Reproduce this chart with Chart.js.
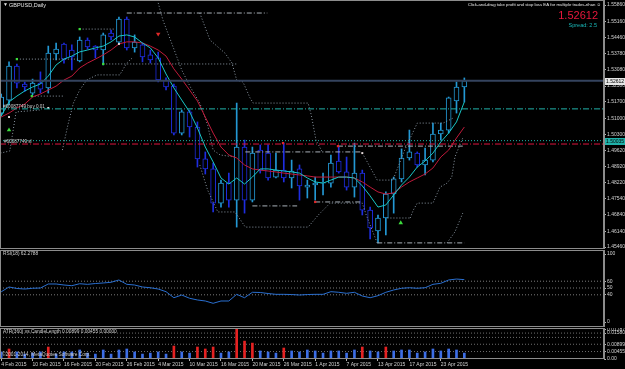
<!DOCTYPE html>
<html>
<head>
<meta charset="utf-8">
<script src="https://cdn.jsdelivr.net/npm/chart.js@4.4.0/dist/chart.umd.min.js"></script>
<style>
  html, body { margin: 0; padding: 0; background: #000; }
  #wrap { position: relative; width: 625px; height: 369px; background: #000; overflow: hidden; }
  canvas { position: absolute; left: 0; }
</style>
</head>
<body>
<div id="wrap">
  <canvas id="priceChart" width="625" height="249" style="top:0"></canvas>
  <canvas id="rsiChart" width="625" height="77" style="top:250px"></canvas>
  <canvas id="atrChart" width="625" height="41" style="top:328px"></canvas>
</div>
<script>
// ---- data (4 Feb - 28 Apr 2015) ----
const opens = [1.5122,1.5178,1.5324,1.5247,1.5208,1.5251,1.5230,1.5376,1.5419,1.5393,
  1.5346,1.5436,1.5410,1.5393,1.5466,1.5427,1.5526,1.5402,1.5415,1.5372,
  1.5359,1.5264,1.5238,1.5036,1.5127,1.5062,1.4925,1.4882,1.4735,1.4821,
  1.4748,1.4976,1.4748,1.4963,1.4950,1.4847,1.4877,1.4843,1.4882,1.4804,
  1.4813,1.4821,1.4821,1.4916,1.4869,1.4804,1.4864,1.4705,1.4615,1.4671,
  1.4774,1.4839,1.4929,1.4950,1.4899,1.4920,1.5032,1.5049,1.5174,1.5234];
const highs = [1.5204,1.5342,1.5333,1.5256,1.5268,1.5299,1.5410,1.5423,1.5423,1.5415,
  1.5449,1.5445,1.5412,1.5466,1.5479,1.5535,1.5535,1.5458,1.5423,1.5393,
  1.5384,1.5273,1.5247,1.5135,1.5135,1.5084,1.4955,1.4907,1.4834,1.4864,
  1.5165,1.5006,1.4976,1.4985,1.4985,1.4950,1.4993,1.4920,1.4899,1.4834,
  1.4847,1.4864,1.4942,1.4976,1.4933,1.4993,1.4877,1.4718,1.4684,1.4783,
  1.4847,1.4968,1.5049,1.4955,1.4972,1.5079,1.5079,1.5191,1.5256,1.5273];
const lows = [1.5109,1.5157,1.5230,1.5215,1.5200,1.5208,1.5208,1.5350,1.5337,1.5307,
  1.5342,1.5397,1.5359,1.5329,1.5436,1.5423,1.5393,1.5384,1.5342,1.5337,
  1.5256,1.5221,1.5028,1.5028,1.5019,1.4890,1.4860,1.4697,1.4718,1.4718,
  1.4632,1.4692,1.4740,1.4864,1.4834,1.4843,1.4826,1.4800,1.4748,1.4757,
  1.4748,1.4770,1.4804,1.4864,1.4791,1.4761,1.4684,1.4581,1.4564,1.4598,
  1.4692,1.4826,1.4920,1.4890,1.4856,1.4912,1.5006,1.5036,1.5122,1.5170];
const closes = [1.5191,1.5324,1.5251,1.5234,1.5251,1.5225,1.5380,1.5397,1.5354,1.5363,
  1.5436,1.5406,1.5393,1.5458,1.5449,1.5526,1.5402,1.5427,1.5363,1.5350,
  1.5264,1.5234,1.5036,1.5127,1.5062,1.4925,1.4882,1.4735,1.4821,1.4748,
  1.4976,1.4748,1.4950,1.4877,1.4843,1.4877,1.4843,1.4873,1.4809,1.4813,
  1.4821,1.4823,1.4907,1.4869,1.4804,1.4864,1.4705,1.4628,1.4671,1.4774,
  1.4839,1.4929,1.4955,1.4899,1.4920,1.5032,1.5049,1.5187,1.5234,1.5261];

const maFast = [1.5109,1.5170,1.5195,1.5217,1.5234,1.5247,1.5281,1.5329,1.5354,1.5367,
  1.5385,1.5393,1.5402,1.5410,1.5428,1.5453,1.5458,1.5449,1.5423,1.5402,
  1.5359,1.5290,1.5230,1.5178,1.5127,1.5058,1.4976,1.4912,1.4843,1.4817,
  1.4843,1.4817,1.4847,1.4882,1.4882,1.4877,1.4873,1.4869,1.4864,1.4843,
  1.4826,1.4821,1.4834,1.4847,1.4847,1.4843,1.4809,1.4766,1.4718,1.4727,
  1.4770,1.4813,1.4847,1.4890,1.4916,1.4950,1.4998,1.5036,1.5084,1.5170];
const maSlow = [1.5105,1.5122,1.5144,1.5161,1.5191,1.5204,1.5221,1.5238,1.5264,1.5281,
  1.5316,1.5337,1.5354,1.5372,1.5393,1.5419,1.5428,1.5428,1.5423,1.5410,
  1.5393,1.5367,1.5312,1.5268,1.5221,1.5174,1.5105,1.5036,1.4976,1.4942,
  1.4929,1.4899,1.4882,1.4877,1.4873,1.4869,1.4864,1.4860,1.4856,1.4852,
  1.4847,1.4847,1.4847,1.4847,1.4847,1.4843,1.4826,1.4804,1.4783,1.4774,
  1.4779,1.4804,1.4826,1.4843,1.4860,1.4886,1.4933,1.4963,1.5015,1.5062];

const rsiValues = [44.4,51.5,49.3,48.5,49.6,50.0,55.9,55.9,54.4,53.4,
  56.3,55.4,56.6,57.4,58.4,61.8,55.4,54.4,51.5,50.4,
  48.5,44.6,35.7,39.7,34.9,32.4,30.9,27.5,30.9,30.9,
  40.7,35.7,43.7,43.4,41.9,40.7,40.7,40.4,39.7,40.4,
  40.7,40.7,44.6,43.7,42.2,43.7,38.2,35.7,38.7,43.7,
  47.1,49.6,50.4,49.6,50.4,55.4,56.9,61.8,63.2,62.3];

const candleLength = [0.0043,0.0061,0.0043,0.0030,0.0036,0.0043,0.0073,0.0030,0.0043,0.0043,
  0.0055,0.0036,0.0030,0.0055,0.0030,0.0055,0.0061,0.0043,0.0030,0.0036,
  0.0043,0.0030,0.0079,0.0043,0.0036,0.0073,0.0061,0.0073,0.0036,0.0043,
  0.0188,0.0109,0.0097,0.0049,0.0043,0.0036,0.0067,0.0049,0.0043,0.0055,
  0.0049,0.0036,0.0049,0.0049,0.0036,0.0055,0.0073,0.0049,0.0043,0.0073,
  0.0049,0.0055,0.0055,0.0036,0.0043,0.0061,0.0049,0.0061,0.0055,0.0036];
const bigCandleBars = [1, 6, 22, 25, 26, 27, 30, 31, 32, 36, 46, 49];

// stepped stop / channel lines, as [bar index, price]
const stopLines = [
  [[19.9,1.5608],[20.6,1.5522],[21.9,1.5406],[23.0,1.5307],[24.1,1.5234],[25.3,1.5165],[26.3,1.5071],[27.0,1.4963],[27.9,1.4942],[29.8,1.4933]],
  [[25.3,1.5552],[26.6,1.5436],[28.5,1.5380],[29.4,1.5337],[30.0,1.5264],[30.8,1.5256],[31.7,1.5187],[32.1,1.5165],[39.1,1.5165],[39.5,1.5114],[40.1,1.5006],[40.9,1.4955]],
  [[-0.1,1.4950],[1.1,1.4959],[1.9,1.5127],[4.9,1.5135]],
  [[7.8,1.4963],[8.5,1.5071],[9.2,1.5165],[10.0,1.5221],[10.9,1.5264],[12.2,1.5286],[15.1,1.5286],[16.0,1.5337],[16.7,1.5359]],
  [[25.3,1.4899],[26.3,1.4791],[27.6,1.4697],[29.8,1.4697],[31.1,1.4632],[39.1,1.4632],[40.4,1.4684],[41.9,1.4735],[46.0,1.4735],[46.5,1.4684],[47.9,1.4564]],
  [[46.0,1.4950],[46.5,1.4920],[47.9,1.4834],[49.9,1.4834],[51.4,1.4963],[53.0,1.5079],[56.3,1.5079],[57.6,1.5101]],
  [[52.1,1.4671],[52.5,1.4705],[53.0,1.4735],[55.0,1.4735],[55.9,1.4804],[56.8,1.4821],[57.4,1.4847],[57.8,1.4933],[58.8,1.5015]],
  [[56.8,1.4564],[57.8,1.4611],[58.8,1.4692]]
];
const levelLines = [
  [[16.0,1.5552],[33.9,1.5552]],
  [[31.1,1.4955],[46.0,1.4955]],
  [[32.0,1.4723],[37.7,1.4723]],
  [[40.0,1.4740],[46.0,1.4740]],
  [[47.9,1.4564],[59.0,1.4564]],
  [[42.9,1.4980],[58.8,1.4980]]
];
const fractalLevels = [
  [[2.0,1.5354],[10.0,1.5354]],
  [[3.9,1.5195],[7.9,1.5195]],
  [[10.0,1.5483],[14.5,1.5483]],
  [[13.0,1.5333],[30.0,1.5333]],
  [[49.2,1.4671],[52.1,1.4671]]
];
const greenDots = [[2.0,1.5354],[3.9,1.5195],[10.0,1.5483],[13.0,1.5333]];
const redDots = [[35.9,1.4993],[42.9,1.4980],[40.0,1.4740]];
const greenArrows = [[1.0,1.5049],[50.9,1.4650]];
const redArrows = [[20.0,1.5462]];
const whiteMarks = [[1.0,1.5105],[6.0,1.5144],[15.0,1.5419],[46.0,1.4950]];

const bidPrice = 1.52612;
const buyOrderPrice = 1.5140;
const stopLossPrice = 1.50035;
const sellLinePrice = 1.4989;

const priceTicks = [1.55860,1.55160,1.54460,1.53780,1.53080,1.52380,1.51700,1.51000,
  1.50300,1.49620,1.48920,1.48220,1.47540,1.46840,1.46140,1.45460];
const rsiTicks = [100, 60, 50, 40, 0];
const rsiLevels = [60, 50, 40];
const atrTicks = [0.01787, 0.0158, 0.00899, 0.00455, 0];
const atrLevels = [0.0158, 0.01316, 0.00899, 0.00455];
const dateTicks = [0, 4, 8, 12, 16, 20, 24, 28, 32, 36, 40, 44, 48, 52, 56];
const dateLabels = ['4 Feb 2015','10 Feb 2015','16 Feb 2015','20 Feb 2015','26 Feb 2015',
  '4 Mar 2015','10 Mar 2015','16 Mar 2015','20 Mar 2015','26 Mar 2015',
  '1 Apr 2015','7 Apr 2015','13 Apr 2015','17 Apr 2015','23 Apr 2015'];

// ---- styling ----
Chart.defaults.font.family = '"Liberation Sans", Arial, sans-serif';
const bullColor = '#2398d4';
const bearColor = '#1e2de0';
const frameColor = '#8c8c8c';
const xMin = -0.15, xMax = 76.79;

const isBull = i => closes[i] >= opens[i];
const candleColor = c => isBull(c.dataIndex) ? bullColor : bearColor;
const pts = arr => arr.map(([x, y]) => ({ x, y }));
const flat = (p) => [{ x: xMin, y: p }, { x: xMax, y: p }];

function lineDs(data, color, dash, width) {
  return { type: 'line', data, borderColor: color, borderWidth: width || 1, borderDash: dash,
    pointRadius: 0, fill: false, tension: 0 };
}
function markerDs(data, color, style, r, rot) {
  return { type: 'line', data: pts(data), showLine: false, pointStyle: style, pointRadius: r,
    pointRotation: rot || 0, pointBackgroundColor: color, pointBorderColor: color, pointBorderWidth: 0 };
}
function hiddenX() {
  return { type: 'linear', min: xMin, max: xMax, display: false, offset: false, bounds: 'data' };
}
function rightAxis(min, max, ticks, fmt) {
  return {
    position: 'right', min, max, bounds: 'data', beginAtZero: false,
    afterBuildTicks: s => { s.ticks = ticks.map(v => ({ value: v })); },
    afterFit: s => { s.width = 21; s.paddingTop = 0; s.paddingBottom = 0; },
    ticks: { color: '#d2d2d2', font: { size: 5 }, padding: 1, autoSkip: false, callback: fmt },
    grid: { drawOnChartArea: false, tickLength: 2, color: '#b4b4b4' },
    border: { display: true, color: frameColor }
  };
}
const baseOptions = {
  responsive: false, animation: false, devicePixelRatio: 1, events: [],
  layout: { padding: 0, autoPadding: false },
  plugins: { legend: { display: false }, tooltip: { enabled: false } }
};

const mainDecor = {
  id: 'mainDecor',
  afterDraw(chart) {
    const { ctx, chartArea: a, scales: { y } } = chart;
    ctx.save();
    ctx.strokeStyle = frameColor;
    ctx.lineWidth = 1;
    ctx.strokeRect(a.left + 0.5, a.top + 0.5, a.width - 1, a.height - 1);

    ctx.textBaseline = 'middle';
    // price boxes on the axis
    [[bidPrice, '#e6e6e6'], [stopLossPrice, '#20b2aa']].forEach(([p, col]) => {
      const py = Math.round(y.getPixelForValue(p));
      ctx.fillStyle = col;
      ctx.fillRect(a.right + 1, py - 3, 20, 7);
      ctx.fillStyle = '#000';
      ctx.font = '5px "Liberation Sans"';
      ctx.fillText(p.toFixed(5), a.right + 2, py + 0.5);
    });

    // symbol caption
    ctx.fillStyle = '#e6e6e6';
    ctx.font = '5px "Liberation Sans"';
    ctx.fillText('\u25BC', 3, 5);
    ctx.font = '5.5px "Liberation Sans"';
    ctx.fillText('GBPUSD,Daily', 9, 5);

    // EA panel, top right
    ctx.textAlign = 'right';
    ctx.font = '4.3px "Liberation Sans"';
    ctx.fillText('Click-and-drag take profit and stop loss EA for multiple trades-rihan \u263A', 601, 5);
    ctx.fillStyle = '#e8173c';
    ctx.font = '11px "Liberation Sans"';
    ctx.fillText(bidPrice.toFixed(5), 598, 16);
    ctx.fillStyle = '#19b9b9';
    ctx.font = '5.5px "Liberation Sans"';
    ctx.fillText('Spread: 2.5', 597, 25.5);

    // order labels
    ctx.textAlign = 'left';
    ctx.fillStyle = '#cfcfcf';
    ctx.font = '4.6px "Liberation Sans"';
    ctx.fillText('#60087749 buy 0.01', 3, y.getPixelForValue(buyOrderPrice) - 2);
    ctx.fillText('#60087749 sl', 4, y.getPixelForValue(stopLossPrice) + 1);
    ctx.restore();
  }
};

function paneDecor(title, extra) {
  return {
    id: 'paneDecor',
    afterDraw(chart) {
      const { ctx, chartArea: a } = chart;
      ctx.save();
      ctx.strokeStyle = frameColor;
      ctx.lineWidth = 1;
      ctx.strokeRect(a.left + 0.5, a.top + 0.5, a.width - 1, a.height - 1);
      ctx.fillStyle = '#cfcfcf';
      ctx.font = '4.8px "Liberation Sans"';
      ctx.textBaseline = 'middle';
      ctx.fillText(title, a.left + 3, a.top + 4);
      if (extra) extra(ctx, a);
      ctx.restore();
    }
  };
}

// ---- price pane ----
const dottedGrey = '#8a96a2';
new Chart(document.getElementById('priceChart'), {
  type: 'bar',
  data: {
    datasets: [
      lineDs(flat(bidPrice), '#34435e', [], 2),
      lineDs(flat(buyOrderPrice), '#20b2aa', [6, 2, 1, 2]),
      lineDs(flat(stopLossPrice), '#20b2aa', [1, 2]),
      lineDs(flat(sellLinePrice), '#dc143c', [6, 2, 1, 2]),
      markerDs(greenDots, '#3cdc3c', 'rect', 1.6),
      markerDs(redDots, '#e02828', 'rect', 1.6),
      markerDs(greenArrows, '#3cdc3c', 'triangle', 2.6),
      markerDs(redArrows, '#e02828', 'triangle', 2.6, 180),
      markerDs(whiteMarks, '#e6dada', 'rect', 1.4),
      lineDs(maFast.map((v, i) => ({ x: i, y: v })), '#19c6c6', []),
      lineDs(maSlow.map((v, i) => ({ x: i, y: v })), '#c01a3a', []),
      ...stopLines.map(l => lineDs(pts(l), dottedGrey, [1, 2])),
      ...levelLines.map(l => lineDs(pts(l), '#a8b0b8', [5, 2, 1, 2])),
      ...fractalLevels.map(l => lineDs(pts(l), dottedGrey, [1, 2])),
      {
        data: opens.map((o, i) => ({ x: i, y: [o, closes[i]] })),
        grouped: false, barThickness: 5, backgroundColor: '#000',
        borderColor: candleColor, borderWidth: 1, borderSkipped: false
      },
      {
        data: opens.map((o, i) => ({ x: i, y: [lows[i], highs[i]] })),
        grouped: false, barThickness: 1, backgroundColor: candleColor, borderWidth: 0
      }
    ]
  },
  options: {
    ...baseOptions,
    scales: { x: hiddenX(), y: rightAxis(1.45378, 1.5608, priceTicks, v => v.toFixed(5)) }
  },
  plugins: [mainDecor]
});

// ---- RSI pane ----
new Chart(document.getElementById('rsiChart'), {
  type: 'line',
  data: {
    datasets: [
      lineDs(rsiValues.map((v, i) => ({ x: i, y: v })), '#2a6fd0', []),
      ...rsiLevels.map(l => lineDs(flat(l), '#7a7a7a', [1, 2]))
    ]
  },
  options: {
    ...baseOptions,
    scales: { x: hiddenX(), y: rightAxis(-7.35, 105.9, rsiTicks, v => String(v)) }
  },
  plugins: [paneDecor('RSI(18) 62.2788')]
});

// ---- ATR / candle length pane ----
new Chart(document.getElementById('atrChart'), {
  type: 'bar',
  data: {
    datasets: [
      {
        data: candleLength.map((v, i) => ({ x: i, y: v })),
        grouped: false, barThickness: 2,
        backgroundColor: c => bigCandleBars.includes(c.dataIndex) ? '#e52222' : '#3d6ee6'
      },
      ...atrLevels.map(l => lineDs(flat(l), '#6e6e6e', [1, 2]))
    ]
  },
  options: {
    ...baseOptions,
    scales: {
      x: {
        type: 'linear', min: xMin, max: xMax, offset: false, bounds: 'data', position: 'bottom',
        afterBuildTicks: s => { s.ticks = dateTicks.map(v => ({ value: v })); },
        afterFit: s => { s.height = 10; s.paddingLeft = 0; s.paddingRight = 0; },
        ticks: { color: '#d2d2d2', font: { size: 5 }, padding: 1, align: 'start', autoSkip: false,
          maxRotation: 0, minRotation: 0, callback: (v, i) => dateLabels[i] },
        grid: { drawOnChartArea: false, tickLength: 2, color: '#b4b4b4', offset: false },
        border: { display: false }
      },
      y: rightAxis(0, 0.0189, atrTicks, v => v === 0 ? '0.00' : v.toFixed(5))
    }
  },
  plugins: [paneDecor('ATR(360) vs CandleLength 0.00899 0.00455 0.00000', (ctx, a) => {
    ctx.fillText('\u00A92001-2014, MetaQuotes Software Corp.', a.left + 2, a.bottom - 4);
  })]
});
</script>
</body>
</html>
